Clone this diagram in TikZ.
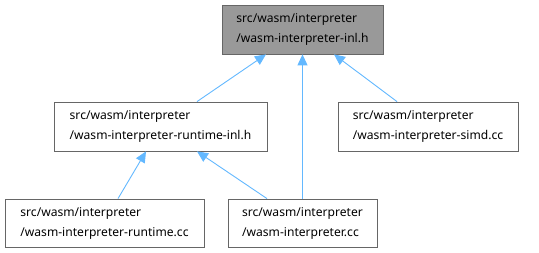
\documentclass[tikz,border=0pt]{standalone}
\usepackage{fontspec}
\setmainfont{Noto Sans}
\usetikzlibrary{arrows.meta}
\definecolor{edgeblue}{HTML}{63B8FF}
\definecolor{boxline}{HTML}{666666}
\definecolor{focusfill}{HTML}{999999}
\tikzset{
  file/.style={draw=boxline, fill=white, line width=0.8pt, align=left,
    font=\fontsize{12.1pt}{20pt}\selectfont, minimum height=49pt, inner sep=0pt},
  focus/.style={file, fill=focusfill},
  edge/.style={draw=edgeblue, line width=0.9pt,
    {Triangle[length=11pt,width=10pt]}-}
}
\begin{document}
\begin{tikzpicture}[x=1pt,y=-1pt]
\useasboundingbox (0,0) rectangle (539,253);
\node[focus, minimum width=161pt] (inl) at (302.5,29.5)
  {src/wasm/interpreter\\/wasm-interpreter-inl.h};
\node[file, minimum width=213pt] (rtinl) at (160.5,126.5)
  {src/wasm/interpreter\\/wasm-interpreter-runtime-inl.h};
\node[file, minimum width=180pt] (simd) at (428,126.5)
  {src/wasm/interpreter\\/wasm-interpreter-simd.cc};
\node[file, minimum width=199pt, minimum height=48pt] (rtcc) at (104.5,223)
  {src/wasm/interpreter\\/wasm-interpreter-runtime.cc};
\node[file, minimum width=149pt, minimum height=48pt] (icc) at (302.5,223)
  {src/wasm/interpreter\\/wasm-interpreter.cc};

\draw[edge] ([xshift=-36.5pt]inl.south) -- ([xshift=36.5pt]rtinl.north);
\draw[edge] (inl.south) -- (icc.north);
\draw[edge] ([xshift=31.5pt]inl.south) -- ([xshift=-31pt]simd.north);
\draw[edge] ([xshift=-14.5pt]rtinl.south) -- ([xshift=13.5pt]rtcc.north);
\draw[edge] ([xshift=36.5pt]rtinl.south) -- ([xshift=-35.5pt]icc.north);
\end{tikzpicture}
\end{document}
